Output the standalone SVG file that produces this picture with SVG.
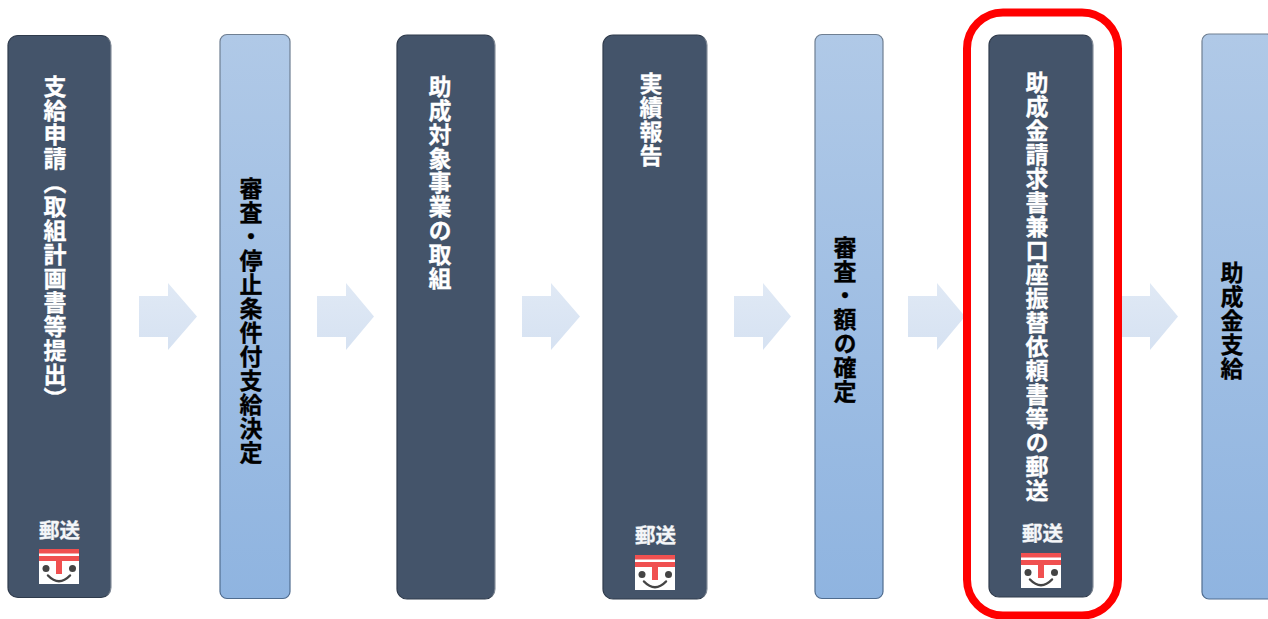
<svg xmlns="http://www.w3.org/2000/svg" width="1268" height="619" viewBox="0 0 1268 619">
<style>
.dark{fill:#44546a;stroke:url(#ds);stroke-width:1.2}
.light{fill:url(#lg);stroke:url(#ls);stroke-width:1.2}
.arrow{fill:url(#ag)}
.t{font-family:"Noto Sans CJK JP","Noto Sans",sans-serif;font-weight:700;font-size:23px;writing-mode:vertical-rl;letter-spacing:1px;stroke-width:.3px}
.w{fill:#fff;stroke:#fff}.k{fill:#000;stroke:#000}
.m{font-family:"Noto Sans CJK JP","Noto Sans",sans-serif;font-weight:700;font-size:20.500px;fill:#f4f6f8;stroke:#f4f6f8;stroke-width:.3px;text-anchor:middle}
</style>
<defs>
<linearGradient id="lg" x1="0" y1="0" x2="0" y2="1"><stop offset="0" stop-color="#b0c9e7"/><stop offset="1" stop-color="#8fb4e0"/></linearGradient>
<linearGradient id="ag" x1="0" y1="0" x2="0" y2="1"><stop offset="0" stop-color="#e0e9f5"/><stop offset="1" stop-color="#d6e2f2"/></linearGradient>
<linearGradient id="ds" x1="0" y1="0" x2="1" y2="0"><stop offset="0" stop-color="#2f3b4c"/><stop offset=".95" stop-color="#2f3b4c"/><stop offset="1" stop-color="#8a939f"/></linearGradient>
<linearGradient id="ls" x1="0" y1="0" x2="0" y2="1"><stop offset="0" stop-color="#6f7f92"/><stop offset="1" stop-color="#4f6c8f"/></linearGradient>
<g id="post">
<rect x="0" y="0" width="40" height="35" fill="#fff"/>
<rect x="0" y="0" width="40" height="4.500" fill="#f05050"/>
<rect x="0" y="7" width="40" height="5" fill="#f05050"/>
<rect x="17" y="12" width="6" height="13" fill="#f05050"/>
<circle cx="7" cy="19.500" r="3.500" fill="#444"/>
<circle cx="33.500" cy="19.500" r="3.500" fill="#444"/>
<path d="M9 26.500Q20 38 31 26.500" fill="none" stroke="#444" stroke-width="2.500" stroke-linecap="round"/>
</g>
</defs>
<g id="connectors">
<path class="arrow" d="M139 296H168V283L197 316.500L168 350V337H139Z"/>
<path class="arrow" d="M317 296H346V283L374 316.500L346 350V337H317Z"/>
<path class="arrow" d="M522 296H551V283L580 316.500L551 350V337H522Z"/>
<path class="arrow" d="M734 296H763V283L791 316.500L763 350V337H734Z"/>
<path class="arrow" d="M908 296H937V283L965 316.500L937 350V337H908Z"/>
<path class="arrow" d="M1121 296H1150V283L1178 316.500L1150 350V337H1121Z"/>
</g>
<g id="n1"><rect class="dark" x="8" y="35.500" width="103" height="562" rx="10"/>
<text class="t w" x="55" y="75">支給申請（取組計画書等提出）</text>
<text class="m" x="59.500" y="538">郵送</text><use href="#post" x="39" y="549"/></g>
<g id="n2"><rect class="light" x="220" y="34.500" width="70" height="564" rx="7"/>
<text class="t k" x="251" y="177">審査・停止条件付支給決定</text></g>
<g id="n3"><rect class="dark" x="397" y="35" width="98" height="564" rx="10"/>
<text class="t w" x="440" y="75">助成対象事業の取組</text></g>
<g id="n4"><rect class="dark" x="603" y="35" width="104" height="564" rx="10"/>
<text class="t w" x="651" y="72">実績報告</text>
<text class="m" x="655.500" y="543">郵送</text><use href="#post" x="635" y="555"/></g>
<g id="n5"><rect class="light" x="815" y="34.500" width="68" height="564" rx="7"/>
<text class="t k" x="845" y="236">審査・額の確定</text></g>
<g id="n6"><rect class="dark" x="989" y="35" width="104" height="562" rx="10"/>
<text class="t w" x="1037" y="71">助成金請求書兼口座振替依頼書等の郵送</text>
<text class="m" x="1042.500" y="541">郵送</text><use href="#post" x="1021" y="553"/></g>
<g id="n7"><rect class="light" x="1202" y="34" width="72" height="565" rx="7"/>
<text class="t k" x="1232" y="261">助成金支給</text></g>
<rect id="highlight" x="967" y="12.500" width="151" height="603" rx="36" fill="none" stroke="#ff0000" stroke-width="8"/>
</svg>
